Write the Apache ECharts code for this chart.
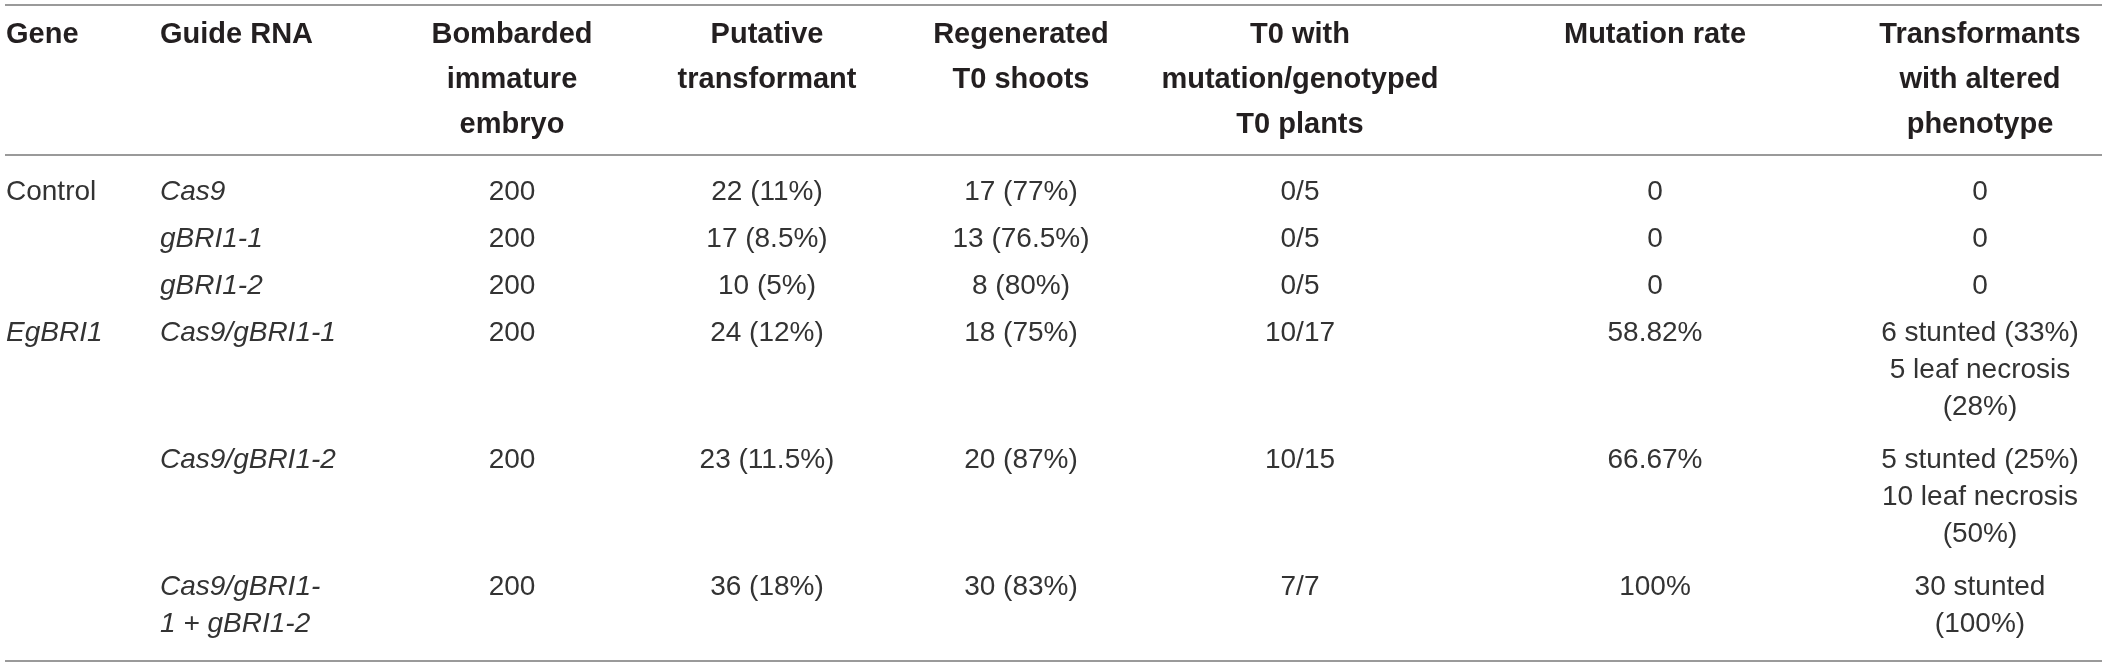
<!DOCTYPE html>
<html>
<head>
<meta charset="utf-8">
<script src="https://cdn.jsdelivr.net/npm/echarts@6/dist/echarts.min.js"></script>
<style>
  html, body { margin: 0; padding: 0; background: #fff; }
  #main { width: 2117px; height: 667px; }
</style>
</head>
<body>
<div id="main"></div>
<script>
// table contents
var headers = [
  ['Gene'],
  ['Guide RNA'],
  ['Bombarded', 'immature', 'embryo'],
  ['Putative', 'transformant'],
  ['Regenerated', 'T0 shoots'],
  ['T0 with', 'mutation/genotyped', 'T0 plants'],
  ['Mutation rate'],
  ['Transformants', 'with altered', 'phenotype']
]
var genes = ['Control', '', '', 'EgBRI1', '', '']
var guideRNA = [['Cas9'], ['gBRI1-1'], ['gBRI1-2'], ['Cas9/gBRI1-1'], ['Cas9/gBRI1-2'], ['Cas9/gBRI1-', '1 + gBRI1-2']]
var bombarded = [200, 200, 200, 200, 200, 200]
var putative = ['22 (11%)', '17 (8.5%)', '10 (5%)', '24 (12%)', '23 (11.5%)', '36 (18%)']
var regenerated = ['17 (77%)', '13 (76.5%)', '8 (80%)', '18 (75%)', '20 (87%)', '30 (83%)']
var t0Mutated = ['0/5', '0/5', '0/5', '10/17', '10/15', '7/7']
var mutationRate = ['0', '0', '0', '58.82%', '66.67%', '100%']
var phenotype = [
  ['0'], ['0'], ['0'],
  ['6 stunted (33%)', '5 leaf necrosis', '(28%)'],
  ['5 stunted (25%)', '10 leaf necrosis', '(50%)'],
  ['30 stunted', '(100%)']
]

// layout (pixels on the hidden axes)
var colX = [6, 160, 512, 767, 1021, 1300, 1655, 1980]
var colAlign = ['left', 'left', 'center', 'center', 'center', 'center', 'center', 'center']
var headTop = 35, headLine = 45
var bodyTop = 192, bodyLine = 37, rowGap = 47, extraLine = 40
var rules = [5, 155, 661]

var FONT = '"Liberation Sans", Arial, Helvetica, sans-serif'
var cells = []

function addCell(col, y, lines, kind) {
  lines.forEach(function (t, i) {
    if (t === '') return
    cells.push({ x: colX[col], y: y + i * (kind === 'head' ? headLine : bodyLine), text: String(t), align: colAlign[col], kind: kind })
  })
}

headers.forEach(function (h, c) { addCell(c, headTop, h, 'head') })

var y = bodyTop
for (var r = 0; r < genes.length; r++) {
  var row = [[genes[r]], guideRNA[r], [bombarded[r]], [putative[r]], [regenerated[r]], [t0Mutated[r]], [mutationRate[r]], phenotype[r]]
  var n = 1
  row.forEach(function (lines, c) {
    var kind = 'body'
    if (c === 1 || (c === 0 && genes[r] !== 'Control')) kind = 'italic'
    addCell(c, y, lines, kind)
    n = Math.max(n, lines.length)
  })
  y += rowGap + (n - 1) * extraLine
}

var myChart = echarts.init(document.getElementById('main'))
myChart.setOption({
  backgroundColor: '#fff',
  animation: false,
  grid: { left: 0, right: 0, top: 0, bottom: 0 },
  xAxis: { type: 'value', min: 0, max: 2117, show: false },
  yAxis: { type: 'value', min: 0, max: 667, inverse: true, show: false },
  series: [
    {
      type: 'custom',
      coordinateSystem: 'cartesian2d',
      data: rules.map(function (v) { return [5, v, 2102] }),
      renderItem: function (params, api) {
        var a = api.coord([api.value(0), api.value(1)])
        var b = api.coord([api.value(2), api.value(1)])
        return {
          type: 'line',
          shape: { x1: a[0], y1: a[1], x2: b[0], y2: b[1] },
          style: { stroke: '#9a9a9a', lineWidth: 2 }
        }
      }
    },
    {
      type: 'custom',
      coordinateSystem: 'cartesian2d',
      data: cells.map(function (c) { return [c.x, c.y] }),
      renderItem: function (params, api) {
        var c = cells[params.dataIndex]
        var p = api.coord([api.value(0), api.value(1)])
        var font
        if (c.kind === 'head') font = 'bold 29px ' + FONT
        else if (c.kind === 'italic') font = 'italic 28px ' + FONT
        else font = '28px ' + FONT
        return {
          type: 'text',
          x: p[0],
          y: p[1],
          style: {
            text: c.text,
            font: font,
            fill: c.kind === 'head' ? '#231f20' : '#333333',
            align: c.align,
            verticalAlign: 'middle'
          }
        }
      }
    }
  ]
})
</script>
</body>
</html>
